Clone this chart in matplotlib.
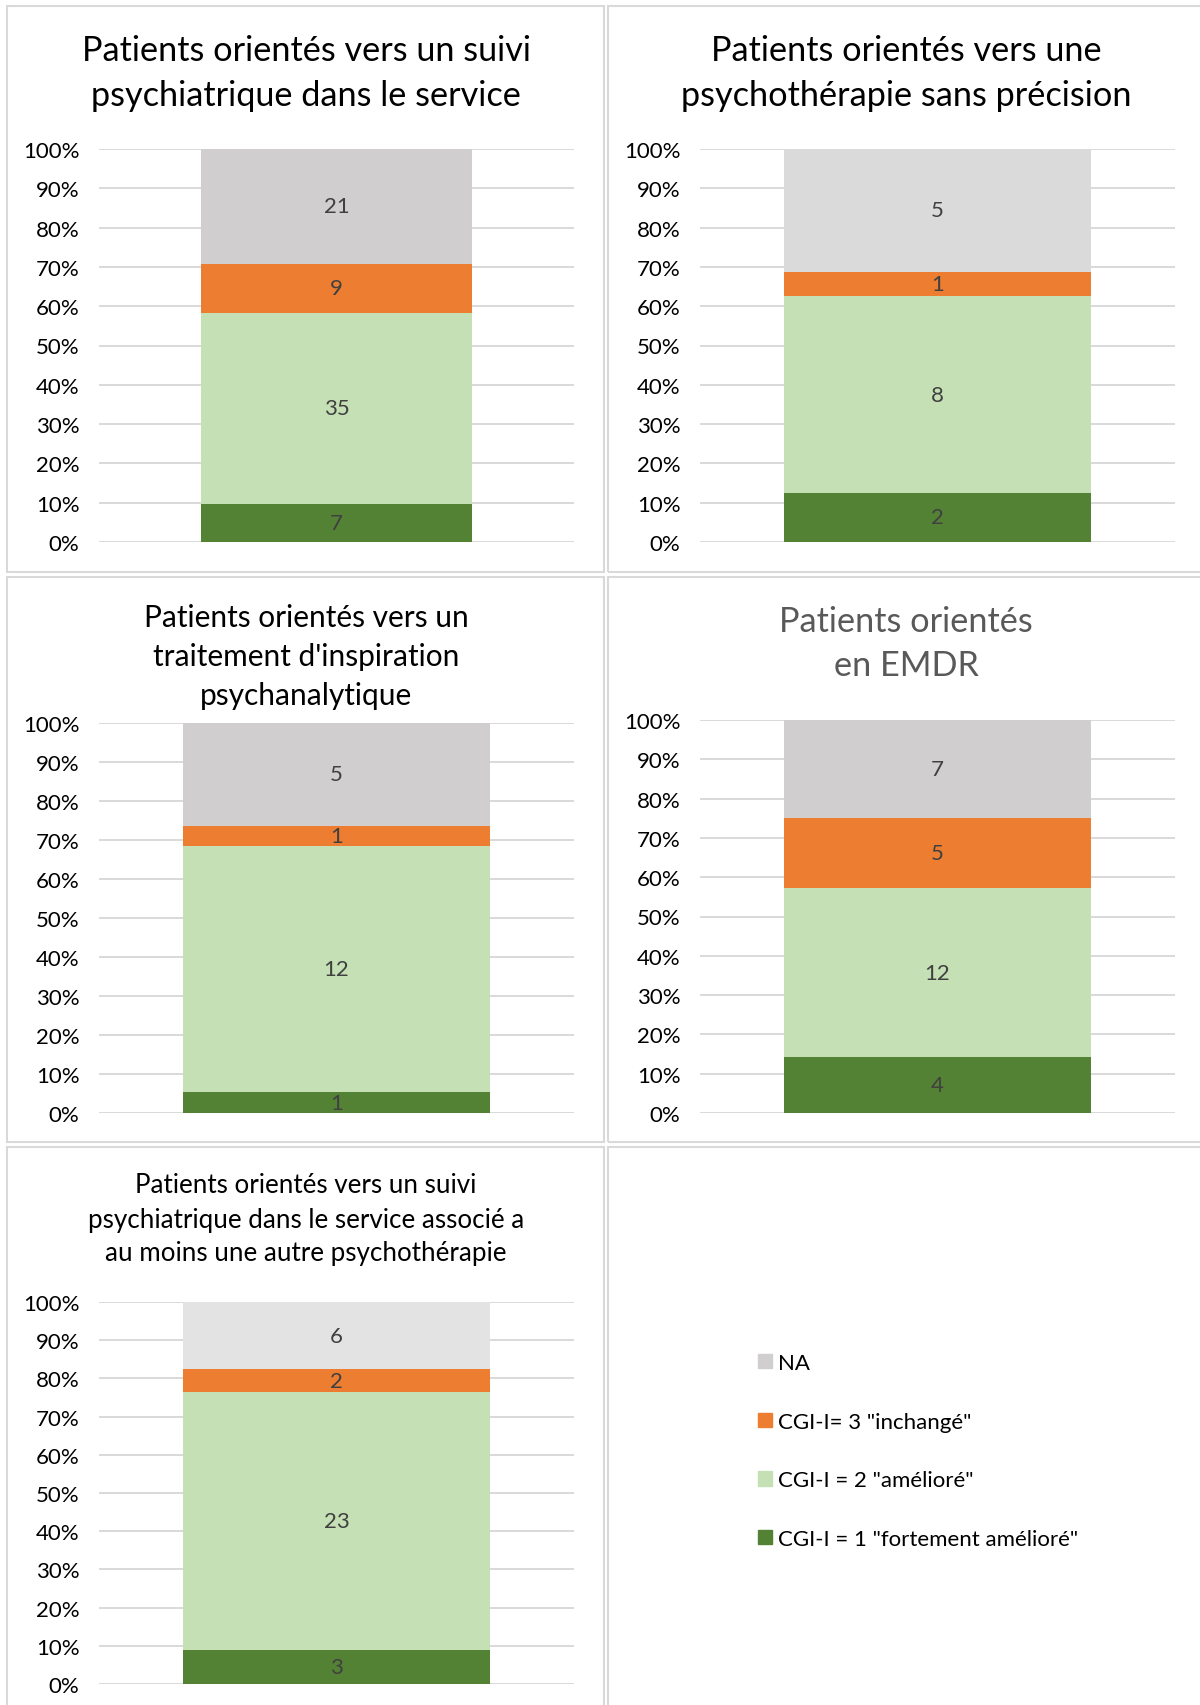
import matplotlib
matplotlib.use("Agg")
import matplotlib.pyplot as plt
from matplotlib.patches import Rectangle, Patch

plt.rcParams['font.family'] = ['Lato', 'DejaVu Sans']

W, H = 1200, 1706

# counts per panel, bottom -> top: CGI-I=1, CGI-I=2, CGI-I=3, NA
suivi_psy      = [7, 35, 9, 21]
psycho_nonprec = [2, 8, 1, 5]
psychanalyse   = [1, 12, 1, 5]
emdr           = [4, 12, 5, 7]
suivi_assoc    = [3, 23, 2, 6]

series_labels = ['CGI-I = 1 "fortement amélioré"', 'CGI-I = 2 "amélioré"',
                 'CGI-I= 3 "inchangé"', 'NA']
ticks = [i/10 for i in range(11)]
tick_labels = ['%d%%' % (i*10) for i in range(11)]

DKG = '#548235'
LTG = '#C5E0B4'
ORG = '#ED7D31'
GRA = '#D0CECE'
BRD = '#D9D9D9'
TXT = '#404040'

fig = plt.figure(figsize=(W/100, H/100), dpi=100)

def fbox(x0, y0, x1, y1):
    return [x0/W, 1-y1/H, (x1-x0)/W, (y1-y0)/H]

# panel frames
for x0, y0, x1, y1 in [(7, 7, 604, 573), (608, 7, 1210, 573),
                       (7, 578, 604, 1143), (608, 578, 1210, 1143),
                       (7, 1148, 604, 1716), (608, 1148, 1210, 1716)]:
    fig.patches.append(Rectangle((x0/W, 1-y1/H), (x1-x0)/W, (y1-y0)/H,
                                 transform=fig.transFigure, fill=False,
                                 ec=BRD, lw=1.5))

panels = [
    (suivi_psy, (99, 150, 574, 543), 0.57, GRA,
     ['Patients orientés vers un suivi', 'psychiatrique dans le service'],
     306, [51, 96], 24.7, 'black'),
    (psycho_nonprec, (700, 150, 1175, 543), 0.645, '#DADADA',
     ['Patients orientés vers une', 'psychothérapie sans précision'],
     906, [51, 96], 24.7, 'black'),
    (psychanalyse, (99, 724, 574, 1114), 0.646, GRA,
     ['Patients orientés vers un', "traitement d'inspiration", 'psychanalytique'],
     306, [618, 657, 696], 21.5, 'black'),
    (emdr, (700, 721, 1175, 1114), 0.645, GRA,
     ['Patients orientés', 'en EMDR'],
     906, [622, 666], 24.7, '#595959'),
    (suivi_assoc, (99, 1303, 574, 1685), 0.646, '#E3E3E3',
     ['Patients orientés vers un suivi', 'psychiatrique dans le service associé a',
      'au moins une autre psychothérapie'],
     306, [1186, 1221, 1254], 18.7, 'black'),
]

for vals, box, bw, na_col, title, tx, tys, tsize, tcol in panels:
    ax = fig.add_axes(fbox(*box))
    tot = float(sum(vals))
    bottom = 0.0
    for v, c in zip(vals, [DKG, LTG, ORG, na_col]):
        h = v/tot
        ax.bar(0, h, width=bw, bottom=bottom, color=c, zorder=2)
        ax.text(0, bottom + h/2, str(v), ha='center', va='center',
                fontsize=16, color=TXT, zorder=3)
        bottom += h
    ax.set_xlim(-0.5, 0.5)
    ax.set_ylim(0, 1)
    ax.set_yticks(ticks)
    ax.set_yticklabels(tick_labels, fontsize=16)
    ax.set_xticks([])
    ax.tick_params(axis='y', length=0, pad=14)
    ax.grid(axis='y', color=BRD, lw=1.4, zorder=0)
    for s in ax.spines.values():
        s.set_visible(False)
    for line, ty in zip(title, tys):
        fig.text(tx/W, 1-ty/H, line, ha='center', va='center',
                 fontsize=tsize, color=tcol)

handles = [Patch(color=c) for c in [GRA, ORG, LTG, DKG]]
fig.legend(handles, series_labels[::-1], loc='upper left',
           bbox_to_anchor=(738/W, 1-1334/H), frameon=False, fontsize=16,
           handlelength=0.62, handleheight=0.62, handletextpad=0.3,
           labelspacing=1.74)

plt.savefig('out.png', dpi=100)
